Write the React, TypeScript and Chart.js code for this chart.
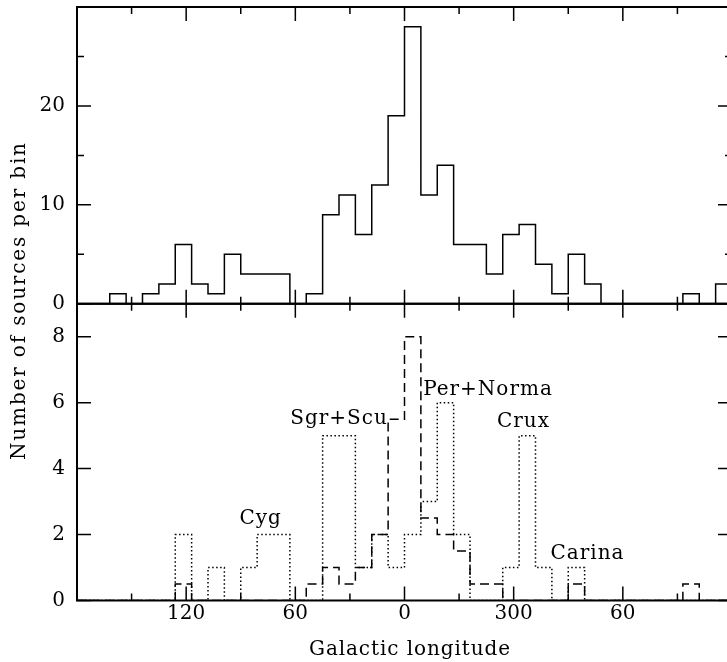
import React, { useEffect, useRef } from 'react';
import { Chart, registerables } from 'chart.js';

Chart.register(...registerables);

// Bin edges in Galactic longitude (signed: 300 deg = -60 deg), 9 deg bins, 180 -> -180
const binEdges = [
  180, 171, 162, 153, 144, 135, 126, 117, 108, 99,
  90, 81, 72, 63, 54, 45, 36, 27, 18, 9,
  0, -9, -18, -27, -36, -45, -54, -63, -72, -81,
  -90, -99, -108, -117, -126, -135, -144, -153, -162, -171,
  -180,
];

// Top panel: all sources per bin
const allSources = [
  0, 0, 1, 0, 1, 2, 6, 2, 1, 5,
  3, 3, 3, 0, 1, 9, 11, 7, 12, 19,
  28, 11, 14, 6, 6, 3, 7, 8, 4, 1,
  5, 2, 0, 0, 0, 0, 0, 1, 0, 2,
];

// Bottom panel: dotted histogram
const dottedCounts = [
  0, 0, 0, 0, 0, 0, 2, 0, 1, 0,
  1, 2, 2, 0, 0, 5, 5, 1, 2, 1,
  2, 3, 6, 2, 0, 0, 1, 5, 1, 0,
  1, 0, 0, 0, 0, 0, 0, 0, 0, 0,
];

// Bottom panel: dashed histogram
const dashedCounts = [
  0, 0, 0, 0, 0, 0, 0.5, 0, 0, 0,
  0, 0, 0, 0, 0.5, 1, 0.5, 1, 2, 5.5,
  8, 2.5, 2, 1.5, 0.5, 0.5, 0, 0, 0, 0,
  0.5, 0, 0, 0, 0, 0, 0, 0.5, 0, 0,
];

const xTickLabels: Record<string, string> = {
  '120': '120',
  '60': '60',
  '0': '0',
  '-60': '300',
  '-120': '60',
};
const topYTickLabels = [0, 10, 20];
const bottomYTickLabels = [0, 2, 4, 6, 8];

const regionNames = ['Cyg', 'Sgr+Scu', 'Per+Norma', 'Crux', 'Carina'];
const regionLongitudes = [79.1, 36, -45.9, -65.4, -100.6];
const regionLevels = [2.32, 5.35, 6.23, 5.26, 1.26];

const xTitle = 'Galactic longitude';
const yTitle = 'Number of sources per bin';

const FAMILY = '"DejaVu Serif", "Liberation Serif", serif';

function toSteps(counts: number[]) {
  return binEdges.map((x, i) => ({ x, y: counts[Math.min(i, counts.length - 1)] }));
}

function drawSpaced(ctx: CanvasRenderingContext2D, text: string, target: number) {
  (ctx as any).letterSpacing = '0px';
  const w = ctx.measureText(text).width;
  const ls = text.length > 1 ? (target - w) / (text.length - 1) : 0;
  (ctx as any).letterSpacing = ls + 'px';
  ctx.fillText(text, 0, 0);
  (ctx as any).letterSpacing = '0px';
}

export default function App() {
  const ref = useRef<HTMLCanvasElement>(null);

  useEffect(() => {
    const canvas = ref.current;
    if (!canvas) return;

    const framePlugin = {
      id: 'frameTicks',
      afterDraw(chart: any) {
        const ctx: CanvasRenderingContext2D = chart.ctx;
        const xs = chart.scales.x;
        const yt = chart.scales.yTop;
        const yb = chart.scales.yBot;
        const L = chart.chartArea.left;
        const R = chart.chartArea.right;
        ctx.save();
        ctx.strokeStyle = '#000';
        ctx.fillStyle = '#000';

        const panels = [
          { s: yt, major: (v: number) => topYTickLabels.includes(v) },
          { s: yb, major: (v: number) => bottomYTickLabels.includes(v) },
        ];
        ctx.lineWidth = 1.5;
        ctx.beginPath();
        for (const p of panels) {
          const top = p.s.top;
          const bot = p.s.bottom;
          for (const t of xs.ticks) {
            const px = xs.getPixelForValue(t.value);
            const len = t.value % 60 === 0 ? 14 : 7;
            ctx.moveTo(px, bot);
            ctx.lineTo(px, bot - len);
            ctx.moveTo(px, top);
            ctx.lineTo(px, top + len);
          }
          for (const t of p.s.ticks) {
            const py = p.s.getPixelForValue(t.value);
            const len = p.major(t.value) ? 14 : 7;
            ctx.moveTo(L, py);
            ctx.lineTo(L + len, py);
            ctx.moveTo(R, py);
            ctx.lineTo(R - len, py);
          }
        }
        ctx.stroke();

        ctx.lineWidth = 2;
        for (const p of panels) {
          ctx.strokeRect(L, p.s.top, R - L, p.s.bottom - p.s.top);
        }

        // region annotations
        ctx.font = `20px ${FAMILY}`;
        ctx.textAlign = 'center';
        ctx.textBaseline = 'alphabetic';
        (ctx as any).letterSpacing = '1px';
        regionNames.forEach((name, i) => {
          const px = xs.getPixelForValue(regionLongitudes[i]);
          const py = yb.getPixelForValue(regionLevels[i]);
          ctx.fillText(name, px, py);
        });
        (ctx as any).letterSpacing = '0px';

        // axis titles
        ctx.textAlign = 'left';
        ctx.save();
        ctx.translate(309, 655);
        drawSpaced(ctx, xTitle, 201);
        ctx.restore();

        ctx.save();
        ctx.translate(25, 460);
        ctx.rotate(-Math.PI / 2);
        drawSpaced(ctx, yTitle, 317);
        ctx.restore();

        ctx.restore();
      },
    };

    const tickFont = { family: FAMILY, size: 20 };

    const chart = new Chart(canvas, {
      type: 'line',
      data: {
        datasets: [
          {
            label: 'All sources',
            data: toSteps(allSources),
            xAxisID: 'x',
            yAxisID: 'yTop',
            borderColor: '#000',
            borderWidth: 1.5,
            stepped: true,
            pointRadius: 0,
            fill: false,
          },
          {
            label: 'Dotted',
            data: toSteps(dottedCounts),
            xAxisID: 'x',
            yAxisID: 'yBot',
            borderColor: '#000',
            borderWidth: 1.5,
            borderDash: [1.5, 2.5],
            stepped: true,
            pointRadius: 0,
            fill: false,
          },
          {
            label: 'Dashed',
            data: toSteps(dashedCounts),
            xAxisID: 'x',
            yAxisID: 'yBot',
            borderColor: '#000',
            borderWidth: 1.5,
            borderDash: [9, 5],
            stepped: true,
            pointRadius: 0,
            fill: false,
          },
        ],
      } as any,
      options: {
        responsive: false,
        animation: false,
        events: [],
        layout: { padding: { top: 7, right: 13, left: 0, bottom: 0 } },
        plugins: {
          legend: { display: false },
          tooltip: { enabled: false },
          title: { display: false },
        },
        scales: {
          x: {
            type: 'linear',
            position: 'bottom',
            min: -180,
            max: 180,
            reverse: true,
            grid: { display: false, drawTicks: false },
            border: { display: false },
            ticks: {
              stepSize: 30,
              autoSkip: false,
              maxRotation: 0,
              padding: 1,
              color: '#000',
              font: tickFont,
              callback: (v: any) => xTickLabels[String(v)] ?? '',
            },
            afterFit: (s: any) => {
              s.height = 61.5;
              s.paddingLeft = 0;
              s.paddingRight = 0;
            },
          },
          yTop: {
            type: 'linear',
            position: 'left',
            stack: 'panels',
            stackWeight: 1,
            weight: 2,
            min: 0,
            max: 30,
            grid: { display: false, drawTicks: false },
            border: { display: false },
            ticks: {
              stepSize: 5,
              padding: 12,
              color: '#000',
              font: tickFont,
              callback: (v: any) => (topYTickLabels.includes(v) ? String(v) : ''),
            },
            afterFit: (s: any) => {
              s.width = 77;
              s.paddingTop = 0;
              s.paddingBottom = 0;
            },
          },
          yBot: {
            type: 'linear',
            position: 'left',
            stack: 'panels',
            stackWeight: 1,
            weight: 1,
            min: 0,
            max: 9,
            grid: { display: false, drawTicks: false },
            border: { display: false },
            ticks: {
              stepSize: 1,
              padding: 12,
              color: '#000',
              font: tickFont,
              callback: (v: any) => (bottomYTickLabels.includes(v) ? String(v) : ''),
            },
            afterFit: (s: any) => {
              s.width = 77;
              s.paddingTop = 0;
              s.paddingBottom = 0;
            },
          },
        },
      } as any,
      plugins: [framePlugin],
    });

    return () => chart.destroy();
  }, []);

  return (
    <div
      style={{
        position: 'fixed',
        left: 0,
        top: 0,
        width: 727,
        height: 662,
        overflow: 'hidden',
        background: '#fff',
      }}
    >
      <canvas ref={ref} width={745} height={662} style={{ display: 'block', width: 745, height: 662 }} />
    </div>
  );
}
